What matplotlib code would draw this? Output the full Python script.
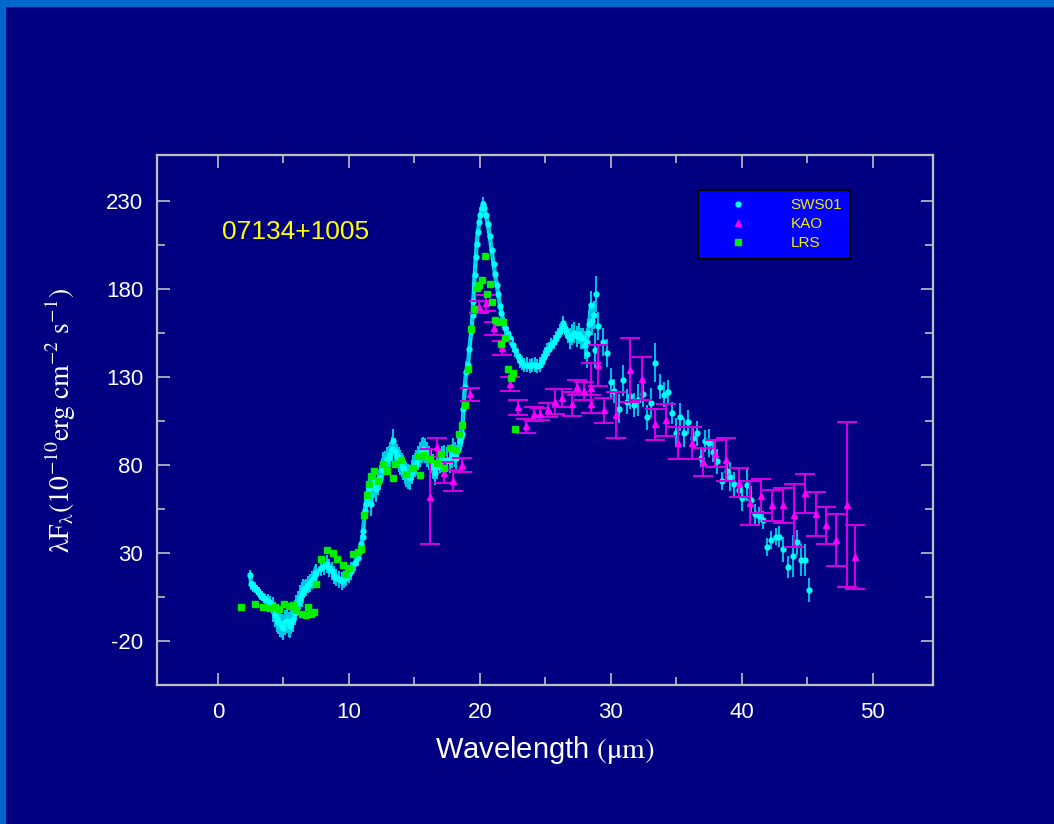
import matplotlib
matplotlib.use("Agg")
import matplotlib.pyplot as plt
from matplotlib.lines import Line2D
from matplotlib.patches import Rectangle

plt.rcParams["mathtext.fontset"] = "stix"
plt.rcParams["axes.unicode_minus"] = False

# SWS01 spectrum: dense part (2.4 - 29 um), wavelength / flux / error
sws_wl = [2.45, 2.55, 2.7, 2.8, 2.95, 3.1, 3.25, 3.35, 3.5, 3.6, 3.8, 4.0, 4.1, 4.2, 4.35, 4.5, 4.6, 4.75,
          4.9, 5.0, 5.1, 5.25, 5.4, 5.5, 5.6, 5.75, 5.9, 6.0, 6.1, 6.25, 6.4, 6.5, 6.6, 6.75, 6.9, 7.0,
          7.15, 7.3, 7.4, 7.5,
          7.9, 8.1, 8.3, 8.5, 8.7, 8.9, 9.05, 9.25, 9.45, 9.6, 9.8, 10.0, 10.2, 10.45, 10.7, 10.85, 10.95,
          11.05, 11.1, 11.2, 11.3, 11.35, 11.45, 11.55, 11.7, 11.85, 12.0, 12.1, 12.25, 12.35, 12.5, 12.6,
          12.75, 12.9, 13.05, 13.15, 13.3, 13.4, 13.55, 13.65, 13.8, 13.9, 14.05, 14.15, 14.3, 14.4, 14.55,
          14.65, 14.8, 14.9, 15.05, 15.15, 15.3, 15.4, 15.55, 15.65, 15.8, 15.95, 16.1, 16.3, 16.45, 16.55,
          16.75, 16.95, 17.1, 17.3, 17.5, 17.7, 17.85, 17.95, 18.1, 18.2, 18.35, 18.45, 18.55, 18.65,
          18.75, 18.85, 18.95, 19.1, 19.2, 19.35, 19.45, 19.5, 19.6, 19.7, 19.75, 19.85, 19.95, 20.05,
          20.15, 20.25, 20.35, 20.45, 20.6, 20.75, 20.9, 21.05, 21.15, 21.3, 21.4, 21.55, 21.65, 21.8,
          21.95, 22.15, 22.3, 22.5, 22.7, 22.9, 23.05, 23.25, 23.4, 23.6, 23.8, 24.0, 24.2, 24.4, 24.6,
          24.75, 24.9, 25.0, 25.1, 25.3, 25.45, 25.65, 25.85, 26.0, 26.1, 26.25, 26.35, 26.5, 26.6, 26.75,
          26.9, 27.05, 27.2, 27.4, 27.6, 27.75, 27.9, 28.05, 28.15, 28.25, 28.35, 28.5, 28.6, 28.7]
sws_flux = [17.5, 12.2, 11, 10.3, 9, 7.4, 6.5, 5.6, 4.5, 3.7, 2.5, 1.8, -0.5, -2, -5, -7.7, -9, -10.5,
            -11.5, -12.4, -9.5, -8.6, -10.5, -11.5, -9, -7.7, -4, -1, 1.5, 4.6, 6.5, 8.4, 9.5, 10.3, 12, 13.1,
            14.5, 16, 17.5, 18.8,
            21.7, 22.5, 23.6, 21.5, 19.8, 17.5, 16, 15, 14.1, 15, 16, 18, 19.8, 24.5, 27.3, 31, 35,
            39, 42.5, 53.9, 58, 61.4, 64, 67.1, 57.7, 71, 68, 66.2, 70, 72.8, 77, 80.4,
            81, 83.2, 84, 86, 89, 93.6, 88, 85, 83, 81.3, 80, 78.4, 76, 74.7, 73.5,
            72.8, 76, 78.4, 80, 81.3, 84, 86, 88, 89, 88, 86, 84, 82.3, 79, 75.6,
            79, 82.3, 83.5, 84.2, 83, 82.3, 85, 88, 86, 84.2, 89, 93.6, 96, 97.4,
            112, 124, 133, 137, 146, 156, 165, 173, 188, 198, 205.5, 212, 218, 222,
            226, 228, 226, 222, 217, 210, 202, 194, 188.5, 182, 177, 170, 166, 162,
            158, 154.4, 152, 148, 145, 142, 139, 138, 136.5, 137, 136, 136.5, 137, 136, 137,
            139, 141, 143, 145, 146, 148, 150, 152, 154, 156, 158, 160.7, 158, 156, 153,
            152, 154, 155, 153, 154.4, 152, 152, 148, 150, 155, 160, 171, 162, 165]
sws_err = [3] * 10 + [4] * 3 + [7] * 19 + [5] * 8 + \
          [5] * 18 + [7] * 58 + \
          [7, 8, 6, 5, 5] + [4] * 53 + [6] * 7 + [8] * 7

# SWS01 sparse points beyond ~29 um
sws2_wl = [28.2, 28.8, 28.9, 29.0, 29.4, 29.7, 30.0, 30.25, 30.6, 30.9, 31.2, 31.5, 31.8, 32.1, 32.45,
           32.8, 33.1, 33.4, 33.75, 34.05, 34.35, 34.65, 34.95, 35.3, 35.6, 35.9, 36.3, 36.6, 36.9, 37.2,
           37.5, 37.8, 38.1, 38.5, 38.85, 39.1, 39.4, 39.75, 40.05, 40.4, 40.7, 41.0, 41.3, 41.6, 41.95,
           42.25, 42.6, 42.85, 43.15, 43.55, 43.9, 44.2, 44.5, 44.85, 45.1]
sws2_flux = [143, 145, 177, 159, 150, 143.6, 126.8, 122, 112, 128, 116, 119, 114, 117, 120,
             107, 115.4, 138, 124.5, 119.8, 121.5, 109.5, 98.4, 107, 98.4, 104.4, 95, 98, 84, 93.6,
             92.3, 87.5, 82, 71, 76.6, 73.4, 69, 66, 61, 68.5, 60, 52, 51, 48.6, 33.4,
             37.4, 39.3, 39.3, 32.1, 22, 28.3, 36, 26, 26, 9]
sws2_err = [8, 10, 10, 8, 8, 8, 8, 7, 8, 9, 7, 7, 7, 9, 7,
            7, 8, 11, 7, 7, 7, 6, 8, 8, 8, 7, 6, 7, 5, 6,
            8, 6, 7, 5, 6, 8, 7, 5, 7, 9, 8, 6, 5, 5, 5,
            5, 5, 6, 7, 6, 12, 7, 9, 9, 7]

# KAO points
kao_wl = [16.2, 16.75, 17.3, 17.95, 18.65, 19.25, 19.9, 20.5, 21.1, 21.7, 22.3, 22.9, 23.5, 24.1, 24.6,
          25.2, 25.75, 26.3, 27.0, 27.4, 27.95, 28.5, 28.5, 29.0, 29.5, 30.4, 31.45, 32.4, 33.35, 34.25,
          35.15, 36.2, 37.05, 37.95, 38.8, 39.75, 40.65, 41.5, 42.3, 43.15, 44.0, 44.85, 45.65, 46.45,
          47.2, 48.05, 48.65]
kao_flux = [62, 90, 75.6, 71, 79.8, 120, 169.8, 172, 157.5, 146.6, 126, 112.6, 102, 109, 109,
            111, 116, 118, 114.5, 124, 122, 123.6, 114.5, 136.6, 111, 108.4, 134, 129, 103, 105.4,
            92.5, 92.5, 81.5, 86.4, 83, 70, 58.6, 62.4, 57, 57, 51.4, 63.9, 52, 45.7,
            37.2, 57.3, 27.7]
kao_err = [27, 5.5, 6, 6, 4, 3.5, 3.5, 4.5, 3.5, 4, 4, 4, 4, 4, 3.5,
           4, 7, 5, 7, 4.5, 5, 14, 5, 11.6, 7, 13, 18, 12, 9, 9,
           9, 9, 8, 7.6, 12, 8.5, 12.5, 9.6, 9, 10, 18, 11, 12.5, 10.6,
           14.8, 46.8, 18]

# LRS points
lrs_wl = [1.8, 2.8, 3.45, 4.0, 4.35, 4.7, 5.05, 5.45, 5.75, 6.0, 6.4, 6.7, 6.9, 7.1, 7.35, 7.5,
          7.9, 8.3, 8.8, 9.1, 9.55, 9.8, 10.0, 10.3, 10.7, 10.95, 11.15, 11.35, 11.5, 11.7, 11.95,
          12.25, 12.6, 12.9, 13.4, 13.55, 14.0, 14.4, 14.9, 15.3, 15.45, 15.7, 16.2, 16.75, 17.0,
          17.3, 17.7, 18.2, 18.4, 18.65, 18.9, 19.1, 19.3, 19.55, 19.75, 19.95, 20.2, 20.4, 20.55,
          20.75, 20.95, 21.15, 21.4, 21.6, 21.8, 21.95, 22.15, 22.35, 22.5, 22.7]
lrs_flux = [-0.7, 1, -0.7, -1, -0.5, -2, 0.8, 0, 0.5, -2.5, -4.5, -5.2, -0.7, -4.8, -3.3, 12.2,
            26.4, 31.5, 30.2, 26.4, 23.2, 17.9, 21.7, 29.6, 30.8, 32, 51.6, 63, 69.4, 73.8, 76.6,
            71, 80.4, 76.6, 72.4, 80.4, 82.6, 74.7, 78.4, 85, 74.3, 85.7, 83.6, 81.3, 86.4,
            78, 89.5, 88.3, 97.4, 102.7, 114, 134.4, 157.4, 168.4, 180.7, 182, 185, 198.8, 177.3,
            183, 172.6, 162.4, 161.2, 148.6, 161.2, 152, 134.7, 129.6, 132.4, 100.6]

source_name = "07134+1005"

bg = "#000080"
fig = plt.figure(figsize=(10.54, 8.24), dpi=100, facecolor=bg)
# light blue strips at left and top edge
fig.patches.append(Rectangle((0, 0), 5 / 1054, 1, transform=fig.transFigure, color="#0066cc", zorder=0))
fig.patches.append(Rectangle((0, 1 - 6 / 824), 1, 6 / 824, transform=fig.transFigure, color="#0066cc", zorder=0))

ax = fig.add_axes([157 / 1054, 1 - 685 / 824, 776 / 1054, 530 / 824], facecolor=bg)

# SWS01 dense band
ax.plot(sws_wl, sws_flux, color="#00e8f0", lw=3, zorder=3)
ax.errorbar(sws_wl, sws_flux, yerr=sws_err, fmt="o", ms=3.5, color="#00ffff",
            ecolor="#00c8e0", elinewidth=1.5, capsize=0, zorder=3)
ax.errorbar(sws2_wl, sws2_flux, yerr=sws2_err, fmt="o", ms=3.5, color="#00ffff",
            ecolor="#00b8e0", elinewidth=1.5, capsize=0, zorder=3)

# KAO
ax.errorbar(kao_wl, kao_flux, yerr=kao_err, fmt="^", ms=4, color="#ff00ff",
            ecolor="#d000e0", elinewidth=1.5, capsize=7, capthick=1.5, zorder=4)

# LRS
ax.plot(lrs_wl, lrs_flux, "s", ms=5, color="#00ee00", zorder=5)

ax.set_xlim(-4.65, 54.6)
ax.set_ylim(-45, 256)
ax.set_xticks([0, 10, 20, 30, 40, 50])
ax.set_xticks([5, 15, 25, 35, 45], minor=True)
ax.set_yticks([-20, 30, 80, 130, 180, 230])
ax.set_yticks([5, 55, 105, 155, 205], minor=True)

for s in ax.spines.values():
    s.set_color("#c0c0c0")
    s.set_linewidth(1.6)
ax.tick_params(which="both", direction="in", top=True, right=True, color="#c0c0c0", width=1.2,
               labelcolor="white", labelsize=16)
ax.tick_params(which="major", length=9)
ax.tick_params(which="minor", length=6)
ax.tick_params(axis="x", pad=12)
ax.tick_params(axis="y", pad=10)
for lab in ax.get_xticklabels() + ax.get_yticklabels():
    lab.set_family("Liberation Sans")

ax.set_xlabel(r"Wavelength $(\mathrm{\mu m})$", color="white", fontsize=21,
              family="Liberation Sans", labelpad=8)
ax.set_ylabel(r"$\mathrm{\lambda F_{\lambda}(10^{-10}erg\ cm^{-2}\ s^{-1})}$", color="white",
              fontsize=20, labelpad=20)

ax.text(0.3, 212, source_name, color="#ffff00", fontsize=19, family="Liberation Sans", va="center")

handles = [Line2D([], [], ls="none", marker="o", ms=3.5, color="#00ffff"),
           Line2D([], [], ls="none", marker="^", ms=4, color="#ff00ff"),
           Line2D([], [], ls="none", marker="s", ms=4.5, color="#00ee00")]
leg = ax.legend(handles, ["SWS01", "KAO", "LRS"], loc="upper left", bbox_to_anchor=(0.697, 0.934),
                borderaxespad=0, prop={"family": "Liberation Sans", "size": 11},
                frameon=True, fancybox=False, facecolor="#0000ff", edgecolor="black",
                framealpha=1, handlelength=4.2, handletextpad=1.3, labelspacing=0.32,
                borderpad=0.55)
leg.get_frame().set_linewidth(1.5)
for t in leg.get_texts():
    t.set_color("#f0f000")

fig.savefig("out.png", dpi=100, facecolor=bg)
